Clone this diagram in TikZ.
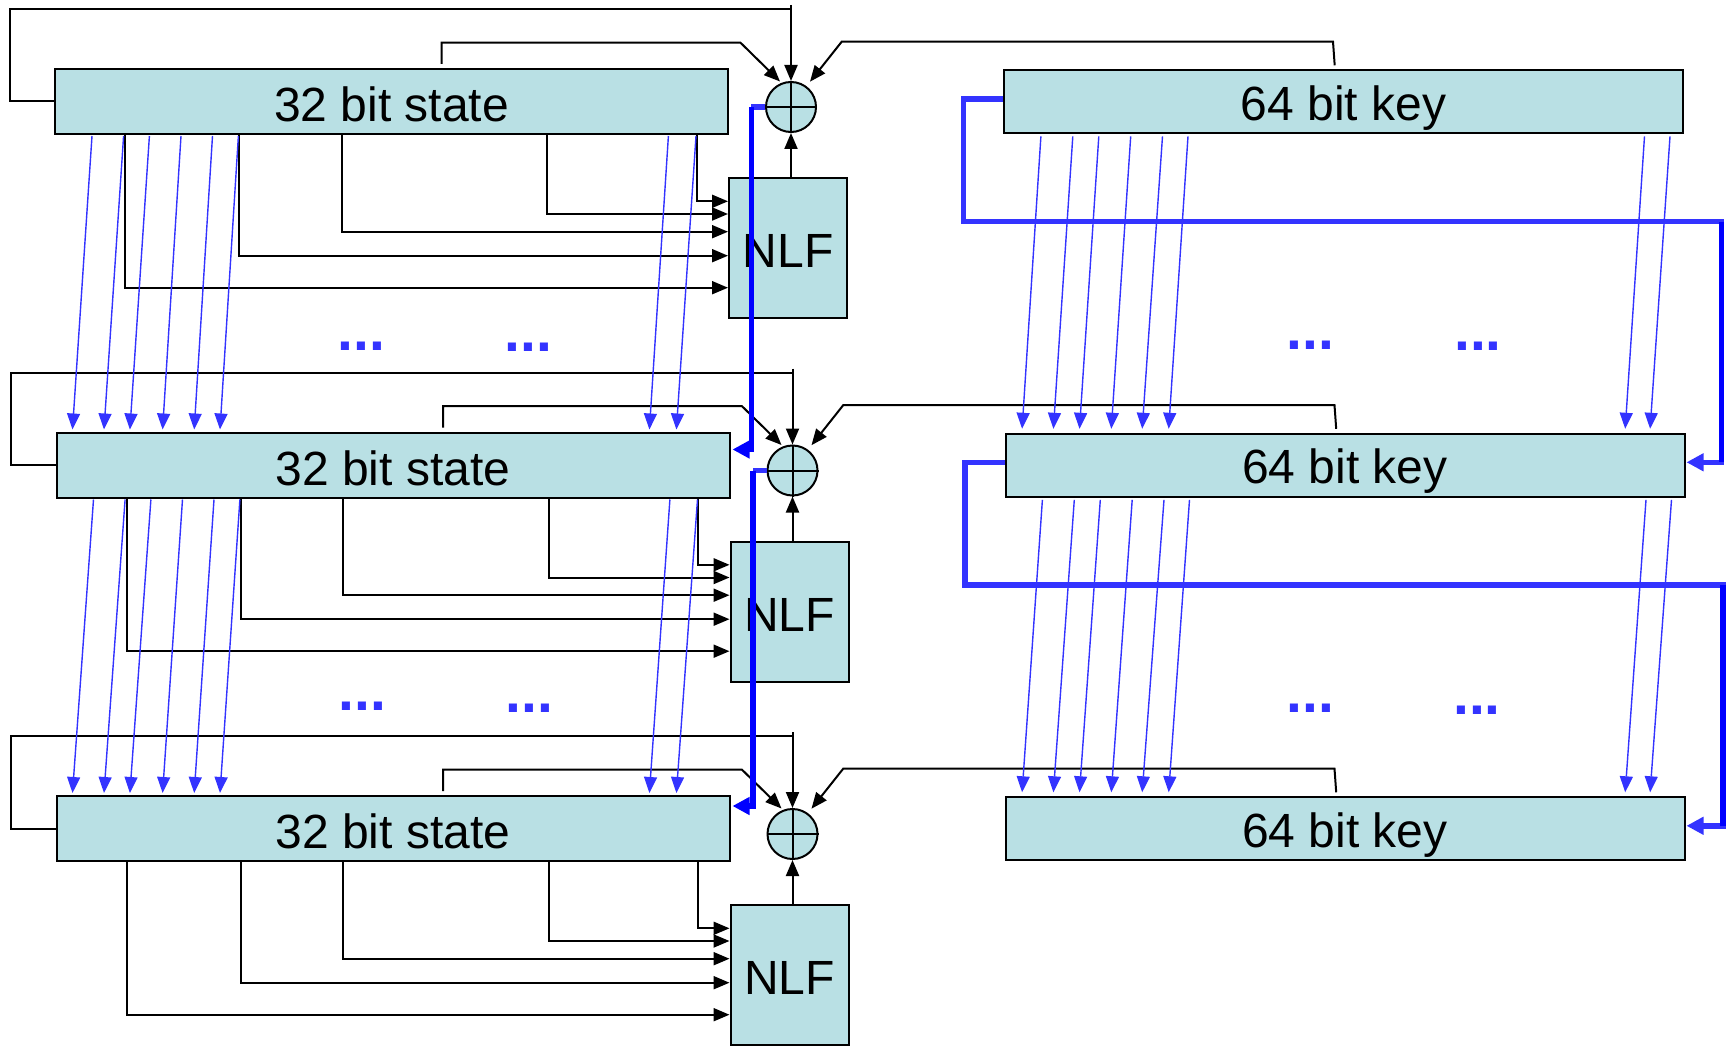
\documentclass[tikz,border=0pt]{standalone}
\usepackage{fontspec}
\setmainfont{Liberation Sans}
\usetikzlibrary{arrows.meta,calc}
\definecolor{boxfill}{RGB}{185,224,228}
\definecolor{lblue}{RGB}{51,51,255}
\definecolor{dblue}{RGB}{0,0,255}
\tikzset{
  blockbox/.style={draw=black, line width=2pt, fill=boxfill, inner sep=0pt,
    text height=40pt, text depth=0pt, font=\fontsize{48}{58}\selectfont},
  xorc/.style={draw=black, line width=2pt, fill=boxfill, circle, minimum size=50pt, inner sep=0pt},
  wire/.style={draw=black, line width=2pt},
  warrow/.style={wire, -{Triangle[length=16pt,width=13pt]}},
  bluearrow/.style={draw=lblue, line width=1.4pt, -{Triangle[length=16pt,width=13pt]}},
  thickblue/.style={line width=5.5pt, line join=miter},
  thickarrow/.style={thickblue, -{Triangle[length=17pt,width=17pt]}},
  dotsnode/.style={text=lblue, font=\fontsize{57}{60}\selectfont\bfseries, anchor=base, inner sep=0pt},
}
\begin{document}
\begin{tikzpicture}[x=1pt,y=-1pt]
\useasboundingbox (0,0) rectangle (1733,1046);

% ---- nodes ----
\foreach \i/\dx/\dy in {1/0/0, 2/1.5/363.5, 3/1.5/727} {
  \node[blockbox, minimum width=673pt, minimum height=65pt] (s\i) at (391.5+\dx, 101.5+\dy) {32 bit state};
  \node[blockbox, minimum width=679pt, minimum height=63pt, text height=37pt] (k\i) at (1343.5+\dx, 101.8+\dy) {64 bit key};
  \node[blockbox, minimum width=118pt, minimum height=140pt, text height=39.4pt] (n\i) at (788+\dx, 248+\dy) {NLF};
  \node[xorc] (x\i) at (791+\dx, 107+\dy) {};
}

% ---- per stage wiring ----
\foreach \i in {1,2,3} {
  % XOR cross
  \draw[line width=2pt] (x\i.north) -- (x\i.south) (x\i.west) -- (x\i.east);
  % feedback from state left side to XOR top
  \draw[wire] (s\i.west) -- ++(-44.5,0) |- ($(x\i.center)+(0,-97.7)$);
  \draw[warrow] ($(x\i.center)+(0,-102)$) -- (x\i.north);
  % state top to XOR upper left
  \draw[warrow] ($(s\i.north west)+(387.6,-4)$) |- ($(x\i.center)+(-50.5,-64.3)$) -- ($(x\i.center)+(-11,-25.5)$);
  % key top to XOR upper right
  \draw[warrow] ($(k\i.north west)+(331.7,-4)$) -- ($(x\i.center)+(542,-65.3)$) -- ($(x\i.center)+(50.7,-65.3)$) -- ($(x\i.center)+(19,-25.3)$);
  % NLF output to XOR
  \draw[warrow] (x\i.south |- n\i.north) -- (x\i.south);
  % state bits into NLF
  \foreach \xo/\yo in {642.5/24.3, 493/37, 287.7/54.7, 185/78.7, 71.3/110.7} {
    \draw[warrow] ($(s\i.south west)+(\xo,0)$) |- ($(n\i.north west)+(0,\yo)$);
  }
}

% ---- transitions stage i -> j ----
\foreach \i/\j/\ty in {1/2/18, 2/3/11} {
  % state bit shifts
  \foreach \a/\b in {38/17, 69.6/48.5, 95.4/74.4, 127/107.1, 158.5/138.7, 184.4/164.5, 614.4/593.9, 642/620.9} {
    \draw[bluearrow] ($(s\i.south west)+(\a,1)$) -- ($(s\j.north west)+(\b,-2)$);
  }
  % key bit shifts
  \foreach \a/\b in {37.9/17.6, 69.8/48.9, 95.8/75, 127.7/106.8, 159.5/137.7, 185/164.2, 641.5/620.7, 667/645.6} {
    \draw[bluearrow] ($(k\i.south west)+(\a,2)$) -- ($(k\j.north west)+(\b,-4)$);
  }
  % XOR output to next state
  \coordinate (sc\i) at ($(x\i.west)+(-13.7,0)$);
  \coordinate (st\j) at ($(s\j.north east)+(2,\ty)$);
  \draw[thickblue, lblue] (x\i.west) -- (sc\i);
  \draw[thickarrow, dblue] (sc\i) -- (sc\i |- st\j) -- (st\j);
  % key rotation loop
  \coordinate (kc\i) at ($(k\i.south west)+(718.5,87.4)$);
  \coordinate (kt\j) at ($(k\j.east)+(1,-3)$);
  \draw[thickarrow, lblue] ($(k\i.west)+(0,-3)$) -- ++(-39.3,0) |- (kc\i) |- (kt\j);
  \draw[thickblue, dblue] (kc\i) -- (kc\i |- kt\j);
}

% ---- ellipses ----
\node[dotsnode] (d1) at (361.2, 350) {...};
\node[dotsnode] (d2) at (528.5, 351) {...};
\node[dotsnode] (d3) at (1310.5, 349) {...};
\node[dotsnode] (d4) at (1478, 350) {...};
\node[dotsnode] (d5) at (362.4, 710.7) {...};
\node[dotsnode] (d6) at (529.5, 712.7) {...};
\node[dotsnode] (d7) at (1310.5, 712.7) {...};
\node[dotsnode] (d8) at (1477, 714) {...};
\end{tikzpicture}
\end{document}
